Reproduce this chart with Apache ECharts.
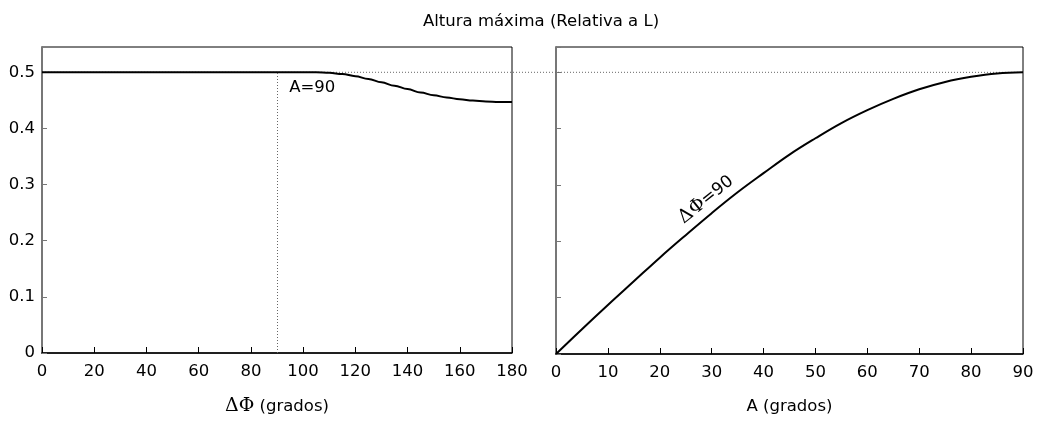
<!DOCTYPE html>
<html>
<head>
<meta charset="utf-8">
<script src="https://cdn.jsdelivr.net/npm/echarts@6/dist/echarts.min.js"></script>
<style>
  html, body { margin: 0; padding: 0; background: #fff; }
  #chart { width: 1040px; height: 421px; }
</style>
</head>
<body>
<div id="chart"></div>
<script>
// left panel: max height vs delta phi (A = 90)
let dphi = [0, 20, 40, 60, 80, 90, 100, 105, 110, 115, 120, 125, 130, 135, 140, 145, 150, 155, 160, 165, 170, 175, 180]
let hLeft = [0.5, 0.5, 0.5, 0.5, 0.5, 0.5, 0.5, 0.5, 0.499, 0.497, 0.493, 0.488, 0.482, 0.476, 0.47, 0.464, 0.459, 0.455, 0.452, 0.4495, 0.448, 0.4472, 0.447]
// right panel: max height vs A (delta phi = 90)
let angA = [0, 5, 10, 15, 20, 25, 30, 35, 40, 45, 50, 55, 60, 65, 70, 75, 80, 85, 90]
let hRight = [0, 0.044, 0.087, 0.129, 0.171, 0.211, 0.25, 0.287, 0.321, 0.354, 0.383, 0.41, 0.433, 0.453, 0.47, 0.483, 0.492, 0.498, 0.5]
let yTicks = [0, 0.1, 0.2, 0.3, 0.4, 0.5]

let font = '"DejaVu Sans", sans-serif'
let serif = '"DejaVu Serif", serif'
let fs = 16.5
let grayAxis = '#777'

function zip(xs, ys) {
    let out = []
    for (let i in xs) out.push([xs[i], ys[i]])
    return out
}

function yAxisFor(gridIndex, showLabels) {
    return {
        type: 'value', gridIndex: gridIndex, min: 0, max: 0.545, interval: 0.1,
        axisLine: { show: true, lineStyle: { color: grayAxis, width: 2 } },
        axisTick: { show: true, inside: true, length: 5, lineStyle: { color: grayAxis } },
        axisLabel: {
            show: showLabels, showMaxLabel: false, color: '#000',
            fontFamily: font, fontSize: fs, margin: 7,
            formatter: v => (yTicks.indexOf(Math.round(v * 10) / 10) >= 0 ? String(Math.round(v * 10) / 10) : '')
        },
        splitLine: { show: false }
    }
}

function xAxisFor(gridIndex, max, step, name) {
    return {
        type: 'value', gridIndex: gridIndex, min: 0, max: max, interval: step,
        name: name, nameLocation: 'middle', nameGap: 44,
        nameTextStyle: {
            fontFamily: font, fontSize: fs, color: '#000',
            rich: {
                m: { fontFamily: serif, fontSize: 19, color: '#000' },
                t: { fontFamily: font, fontSize: fs, color: '#000' }
            }
        },
        axisLine: { show: true, lineStyle: { color: '#000', width: 1.5 } },
        axisTick: { show: true, inside: true, length: 6, lineStyle: { color: '#000' } },
        axisLabel: { color: '#000', fontFamily: font, fontSize: fs, margin: 10 },
        splitLine: { show: false }
    }
}

function noteLabel(text, extra) {
    return Object.assign({
        show: true, formatter: text, color: '#000', fontFamily: font, fontSize: fs,
        rich: {
            m: { fontFamily: serif, fontSize: 19, color: '#000' },
            t: { fontFamily: font, fontSize: 17, color: '#000' }
        }
    }, extra)
}

var chart = echarts.init(document.getElementById('chart'))
chart.setOption({
    animation: false,
    backgroundColor: '#fff',
    title: {
        text: 'Altura máxima (Relativa a L)', left: 418, top: 8,
        textStyle: { fontFamily: font, fontSize: fs, fontWeight: 'normal', color: '#000' }
    },
    grid: [
        { left: 42, right: 528, top: 47, bottom: 67, show: true, borderColor: '#000', borderWidth: 1 },
        { left: 556, right: 17, top: 47, bottom: 67, show: true, borderColor: '#000', borderWidth: 1 }
    ],
    xAxis: [
        xAxisFor(0, 180, 20, '{m|ΔΦ}{t| (grados)}'),
        xAxisFor(1, 90, 10, 'A (grados)')
    ],
    yAxis: [yAxisFor(0, true), yAxisFor(1, false)],
    series: [
        {
            type: 'line', xAxisIndex: 0, yAxisIndex: 0, data: zip(dphi, hLeft),
            smooth: 0.4, smoothMonotone: 'x', showSymbol: false, z: 3,
            lineStyle: { color: '#000', width: 2 },
            markLine: {
                silent: true, symbol: 'none', label: { show: false },
                lineStyle: { color: '#666', type: [1, 2], width: 1 },
                data: [[{ coord: [90, 0] }, { coord: [90, 0.5] }]]
            },
            markPoint: {
                symbol: 'circle', symbolSize: 1, itemStyle: { color: 'rgba(0,0,0,0)' },
                data: [{
                    coord: [94.5, 0.473],
                    label: noteLabel('A=90', { position: 'right', distance: 0 })
                }]
            }
        },
        {
            type: 'line', xAxisIndex: 1, yAxisIndex: 1, data: zip(angA, hRight),
            smooth: 0.4, showSymbol: false, z: 3,
            lineStyle: { color: '#000', width: 2 },
            markPoint: {
                symbol: 'circle', symbolSize: 1, itemStyle: { color: 'rgba(0,0,0,0)' },
                data: [{
                    coord: [28.9, 0.274],
                    label: noteLabel('{m|ΔΦ}{t|=90}', { position: 'inside', rotate: 39 })
                }]
            }
        }
    ]
})

// dotted reference line at 0.5 running across both panels
let p0 = chart.convertToPixel({ gridIndex: 0 }, [0, 0.5])
let p1 = chart.convertToPixel({ gridIndex: 1 }, [90, 0.5])
chart.setOption({
    graphic: [{
        type: 'line', z: 1, silent: true,
        shape: { x1: p0[0], y1: p0[1], x2: p1[0], y2: p1[1] },
        style: { stroke: '#666', lineWidth: 1, lineDash: [1, 2] }
    }]
})
</script>
</body>
</html>
